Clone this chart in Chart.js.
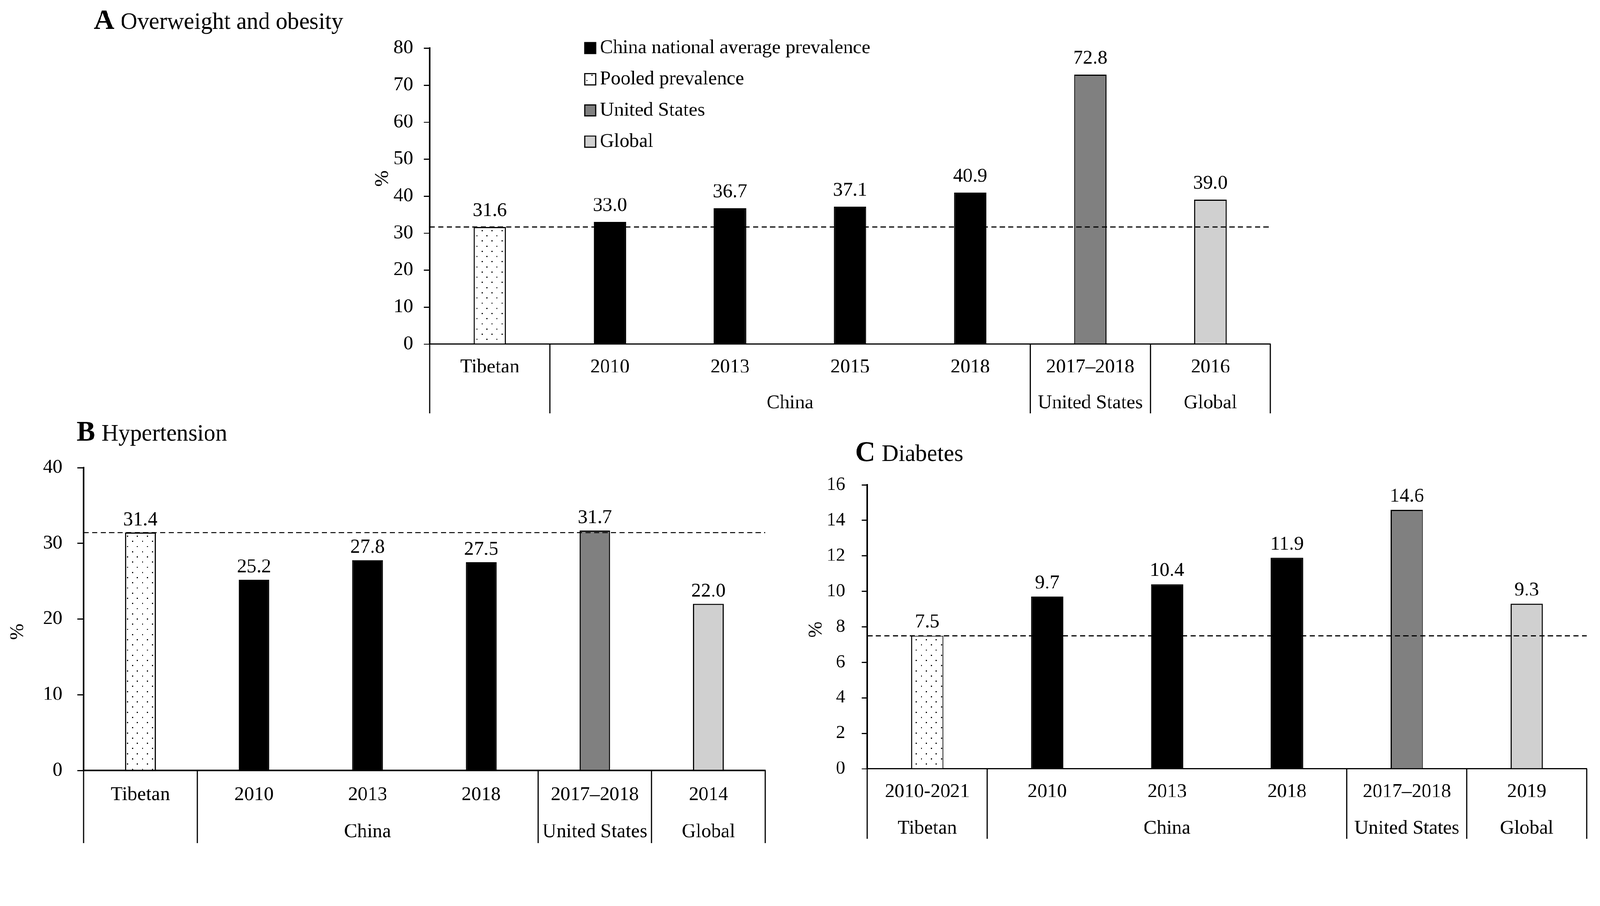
<!DOCTYPE html>
<html>
<head>
<meta charset="utf-8">
<script src="https://cdn.jsdelivr.net/npm/chart.js@4.4.1/dist/chart.umd.min.js"></script>
<style>
    html, body { margin: 0; padding: 0; background: #fff; overflow: hidden; }
    #outer { position: relative; overflow: hidden; background: #fff; }
    #wrap { position: absolute; left: 0; top: 0; width: 4326px; height: 2319px; background: #fff; transform-origin: 0 0; }
    #wrap canvas { position: absolute; left: 0; top: 0; }
</style>
</head>
<body>
<div id="outer">
<div id="wrap">
    <canvas id="chartA" width="4326" height="2319"></canvas>
    <canvas id="chartB" width="4326" height="2319"></canvas>
    <canvas id="chartC" width="4326" height="2319"></canvas>
</div>
</div>
<script>
// A - overweight and obesity
const labelsA = ['Tibetan', '2010', '2013', '2015', '2018', '2017–2018', '2016'];
const valuesA = [31.6, 33.0, 36.7, 37.1, 40.9, 72.8, 39.0];
const kindsA = ['pooled', 'china', 'china', 'china', 'china', 'us', 'global'];
const groupNamesA = ['', 'China', 'United States', 'Global'];
const groupSizesA = [1, 4, 1, 1];
const yTicksA = [0, 80, 10];

// B - hypertension
const labelsB = ['Tibetan', '2010', '2013', '2018', '2017–2018', '2014'];
const valuesB = [31.4, 25.2, 27.8, 27.5, 31.7, 22.0];
const kindsB = ['pooled', 'china', 'china', 'china', 'us', 'global'];
const groupNamesB = ['', 'China', 'United States', 'Global'];
const groupSizesB = [1, 3, 1, 1];
const yTicksB = [0, 40, 10];

// C - diabetes
const labelsC = ['2010-2021', '2010', '2013', '2018', '2017–2018', '2019'];
const valuesC = [7.5, 9.7, 10.4, 11.9, 14.6, 9.3];
const kindsC = ['pooled', 'china', 'china', 'china', 'us', 'global'];
const groupNamesC = ['Tibetan', 'China', 'United States', 'Global'];
const groupSizesC = [1, 3, 1, 1];
const yTicksC = [0, 16, 2];

const legendLabels = ['China national average prevalence', 'Pooled prevalence', 'United States', 'Global'];
const legendKinds = ['china', 'pooled', 'us', 'global'];

const FONT = '"Liberation Serif", "Times New Roman", serif';
Chart.defaults.font.family = FONT;
Chart.defaults.color = '#000';

// fit the 4326px-wide figure into whatever css width the window has
const outer = document.getElementById('outer');
const wrap = document.getElementById('wrap');
const fit = document.documentElement.clientWidth / 4326;
wrap.style.transform = 'scale(' + fit + ')';
outer.style.width = (4326 * fit) + 'px';
outer.style.height = Math.floor(2319 * fit) + 'px';

// dotted fill for the pooled bars
function makeDots() {
    const c = document.createElement('canvas');
    c.width = 27; c.height = 28;
    const g = c.getContext('2d');
    g.fillStyle = '#fff';
    g.fillRect(0, 0, 27, 28);
    g.fillStyle = '#000';
    g.fillRect(6, 6, 3, 3);
    g.fillRect(19, 20, 3, 3);
    return g.createPattern(c, 'repeat');
}
const dots = makeDots();
const fills = { china: '#000000', pooled: dots, us: '#808080', global: '#d0d0d0' };

const decor = {
    id: 'decor',
    afterDatasetsDraw(chart, args, o) {
        const ctx = chart.ctx;
        const area = chart.chartArea;
        const xs = chart.scales.x, ys = chart.scales.y;
        const meta = chart.getDatasetMeta(0);
        const vals = chart.data.datasets[0].data;
        ctx.save();

        // reference line at the pooled value
        const yRef = ys.getPixelForValue(vals[0]);
        ctx.strokeStyle = '#000';
        ctx.lineWidth = 3;
        ctx.setLineDash([14, 9]);
        ctx.beginPath();
        ctx.moveTo(area.left, yRef);
        ctx.lineTo(area.right, yRef);
        ctx.stroke();
        ctx.setLineDash([]);

        // values over bars
        ctx.fillStyle = '#000';
        ctx.font = o.valueSize + 'px ' + FONT;
        ctx.textAlign = 'center';
        ctx.textBaseline = 'alphabetic';
        meta.data.forEach((bar, i) => {
            ctx.fillText(vals[i].toFixed(1), bar.x, bar.y - o.valueGap);
        });

        // group dividers and second label row
        const half = (xs.getPixelForValue(1) - xs.getPixelForValue(0)) / 2;
        ctx.lineWidth = 3;
        ctx.beginPath();
        ctx.moveTo(area.left, area.bottom);
        ctx.lineTo(area.left, o.lineBottom);
        ctx.stroke();
        ctx.font = o.labelSize + 'px ' + FONT;
        ctx.textBaseline = 'middle';
        let idx = 0;
        o.groupSizes.forEach((n, gi) => {
            const l = xs.getPixelForValue(idx) - half;
            const r = xs.getPixelForValue(idx + n - 1) + half;
            ctx.beginPath();
            ctx.moveTo(r, area.bottom);
            ctx.lineTo(r, o.lineBottom);
            ctx.stroke();
            if (o.groupNames[gi]) ctx.fillText(o.groupNames[gi], (l + r) / 2, o.row2Y);
            idx += n;
        });

        // panel title
        ctx.textAlign = 'left';
        ctx.textBaseline = 'alphabetic';
        ctx.font = 'bold 76px ' + FONT;
        ctx.fillText(o.letter, o.titleX, o.titleY);
        const w = ctx.measureText(o.letter).width;
        ctx.font = '63px ' + FONT;
        ctx.fillText(o.title, o.titleX + w + 17, o.titleY);

        // axis unit
        ctx.save();
        ctx.translate(o.pctX, o.pctY);
        ctx.rotate(-Math.PI / 2);
        ctx.font = '53px ' + FONT;
        ctx.textAlign = 'center';
        ctx.textBaseline = 'middle';
        ctx.fillText('%', 0, 0);
        ctx.restore();

        // legend
        if (o.legend) {
            ctx.font = '53px ' + FONT;
            ctx.textBaseline = 'middle';
            legendLabels.forEach((t, i) => {
                const y = 130 + i * 84.3;
                ctx.fillStyle = fills[legendKinds[i]];
                ctx.fillRect(1581, y - 15, 30, 30);
                ctx.strokeStyle = '#000';
                ctx.lineWidth = 3;
                ctx.strokeRect(1581, y - 15, 30, 30);
                ctx.fillStyle = '#000';
                ctx.fillText(t, 1622, y);
            });
        }
        ctx.restore();
    }
};

function makeChart(id, labels, values, kinds, yTicks, box, deco) {
    const W = 4326, H = 2319;
    return new Chart(document.getElementById(id), {
        type: 'bar',
        data: {
            labels: labels,
            datasets: [{
                data: values,
                backgroundColor: kinds.map(k => fills[k]),
                borderColor: '#000',
                borderWidth: 3,
                barPercentage: 0.27,
                categoryPercentage: 1
            }]
        },
        options: {
            responsive: false,
            animation: false,
            devicePixelRatio: 1,
            layout: { padding: { top: box.top, right: W - box.right, left: 0, bottom: 0 } },
            plugins: {
                legend: { display: false },
                tooltip: { enabled: false },
                decor: deco
            },
            scales: {
                x: {
                    grid: { display: false, drawTicks: false },
                    border: { display: true, color: '#000', width: 4 },
                    ticks: { font: { size: deco.labelSize }, padding: box.xPad, maxRotation: 0, autoSkip: false },
                    afterFit: s => { s.height = H - box.bottom; }
                },
                y: {
                    min: yTicks[0],
                    max: yTicks[1],
                    grid: { drawOnChartArea: false, drawTicks: true, tickLength: box.tickLen, color: '#000', lineWidth: 3 },
                    border: { display: true, color: '#000', width: 4 },
                    ticks: { stepSize: yTicks[2], font: { size: box.tickSize }, padding: box.yPad },
                    afterFit: s => { s.width = box.left; }
                }
            }
        },
        plugins: [decor]
    });
}

makeChart('chartA', labelsA, valuesA, kindsA, yTicksA,
    { left: 1162, right: 3435, top: 130, bottom: 930, xPad: 31, yPad: 29, tickLen: 16, tickSize: 53 },
    { letter: 'A', title: 'Overweight and obesity', titleX: 254, titleY: 78, pctX: 1035, pctY: 483,
      row2Y: 1090, lineBottom: 1117, groupNames: groupNamesA, groupSizes: groupSizesA,
      valueSize: 53, valueGap: 30, labelSize: 53, legend: true });

makeChart('chartB', labelsB, valuesB, kindsB, yTicksB,
    { left: 226, right: 2069, top: 1264, bottom: 2083, xPad: 34, yPad: 40, tickLen: 17, tickSize: 53 },
    { letter: 'B', title: 'Hypertension', titleX: 207, titleY: 1191, pctX: 48, pctY: 1708,
      row2Y: 2249, lineBottom: 2279, groupNames: groupNamesB, groupSizes: groupSizesB,
      valueSize: 53, valueGap: 20, labelSize: 53, legend: false });

makeChart('chartC', labelsC, valuesC, kindsC, yTicksC,
    { left: 2345, right: 4290, top: 1311, bottom: 2078, xPad: 31, yPad: 45, tickLen: 15, tickSize: 50 },
    { letter: 'C', title: 'Diabetes', titleX: 2312, titleY: 1246, pctX: 2207, pctY: 1702,
      row2Y: 2240, lineBottom: 2268, groupNames: groupNamesC, groupSizes: groupSizesC,
      valueSize: 53, valueGap: 22, labelSize: 53, legend: false });
</script>
</body>
</html>
